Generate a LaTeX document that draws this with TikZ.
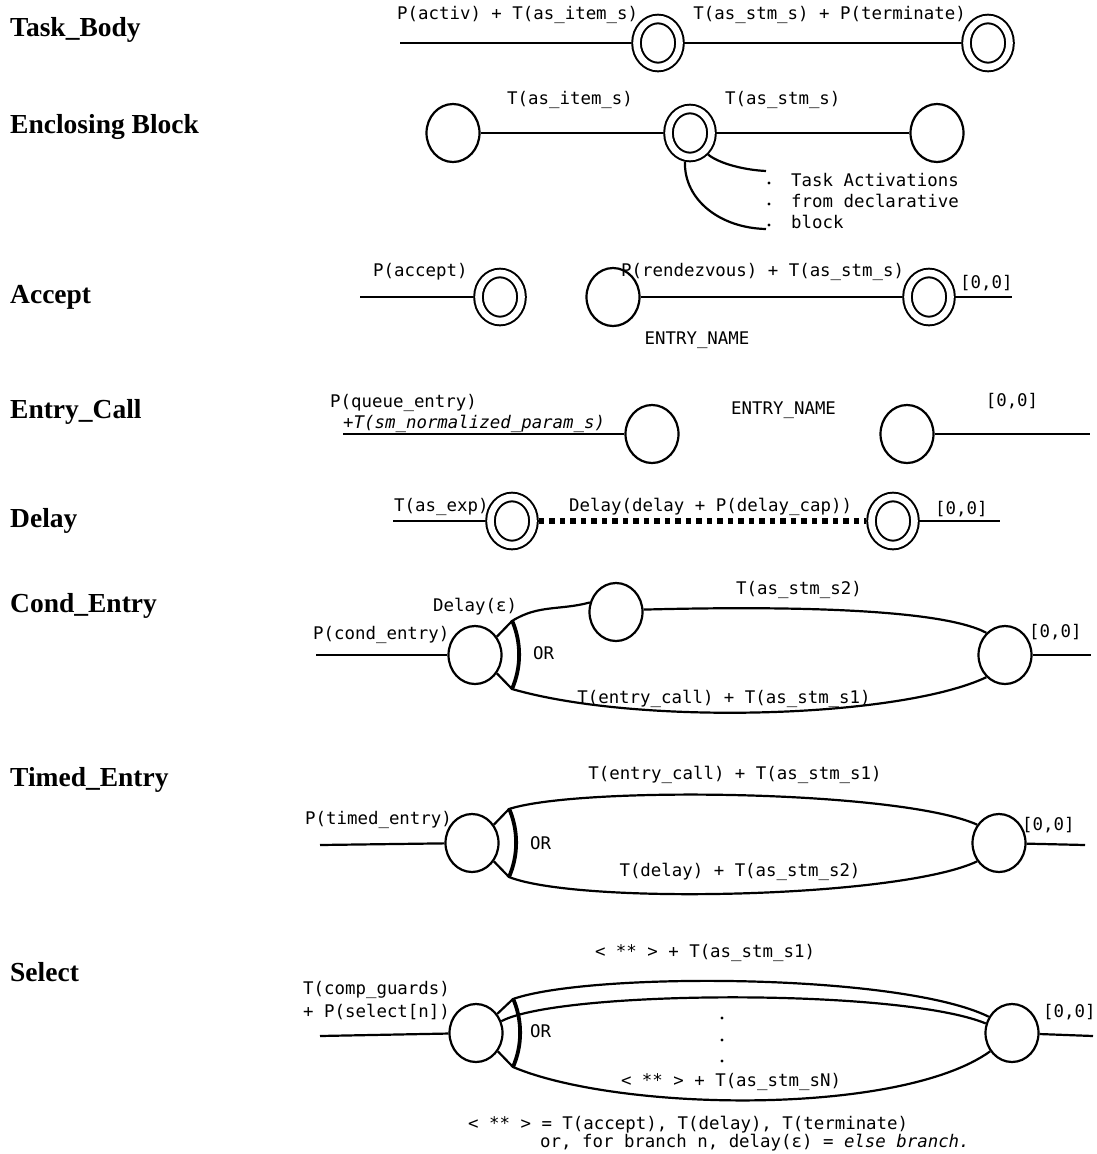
\documentclass[tikz,border=0pt]{standalone}
\usepackage{fontspec}
\newfontfamily\monof{DejaVu Sans Mono}
\newfontfamily\serf{Liberation Serif}
\usetikzlibrary{shapes.geometric,calc}
\tikzset{
 lbl/.style={font=\monof\fontsize{17.4}{20}\selectfont, inner sep=0pt},
 rowlbl/.style={font=\serf\bfseries\fontsize{27.5}{32}\selectfont, inner sep=0pt, anchor=west},
 ln/.style={line width=2.2pt},
 sgl/.style={ellipse, draw, line width=2.2pt, minimum width=53pt, minimum height=58pt, inner sep=0pt},
 dbl/.style={ellipse, draw, line width=2pt, double=white, double distance=6.6pt, minimum width=43pt, minimum height=48pt, inner sep=0pt, outer sep=5.3pt},
 orarc/.style={line width=3.8pt},
 sqdots/.style={line width=5.5pt, dash pattern=on 5.5pt off 5pt},
 smalldot/.style={circle, fill, inner sep=0pt, minimum size=3.2pt},
}
\begin{document}
\begin{tikzpicture}[x=1pt,y=1pt]
\fill[white] (0,0) rectangle (1097,-1154);
\useasboundingbox (0,0) rectangle (1097,-1154);

% row labels
\node[rowlbl] (lTB) at (10,-30) {Task\_Body};
\node[rowlbl] (lEB) at (10,-127) {Enclosing Block};
\node[rowlbl] (lAC) at (10,-297) {Accept};
\node[rowlbl] (lEC) at (10,-412) {Entry\_Call};
\node[rowlbl] (lDL) at (10,-521) {Delay};
\node[rowlbl] (lCE) at (10,-606) {Cond\_Entry};
\node[rowlbl] (lTE) at (10,-780) {Timed\_Entry};
\node[rowlbl] (lSE) at (10,-972) {Select};

% Row 1: Task_Body
\coordinate (r1s) at (400,-43);
\node[dbl] (P1) at (658,-43) {};
\node[dbl] (P2) at (988,-43) {};
\draw[ln] (r1s) -- (P1);
\draw[ln] (P1) -- (P2);
\node[lbl,anchor=west] (t1a) at (397,-15) {P(activ) + T(as\_item\_s)};
\node[lbl,anchor=east] (t1b) at (966,-15) {T(as\_stm\_s) + P(terminate)};

% Row 2: Enclosing Block
\node[sgl] (E1) at (453,-133) {};
\node[dbl] (E2) at (690,-133) {};
\node[sgl] (E3) at (937,-133) {};
\draw[ln] (E1) -- (E2);
\draw[ln] (E2) -- (E3);
\node[lbl,anchor=west] (t2a) at (507,-100) {T(as\_item\_s)};
\node[lbl,anchor=west] (t2b) at (725,-100) {T(as\_stm\_s)};
\coordinate (ea1) at (766,-171);
\coordinate (ea2) at (766,-229);
\draw[ln] (E2.-50) .. controls (720,-164) and (745,-170) .. (ea1);
\draw[ln] (E2.-100) .. controls (684,-200) and (720,-228) .. (ea2);
\node[lbl,anchor=west] (t2c) at (791,-180) {Task Activations};
\node[lbl,anchor=west] (t2d) at (791,-201) {from declarative};
\node[lbl,anchor=west] (t2e) at (791,-222) {block};
\node[smalldot] (d2a) at (769,-183) {};
\node[smalldot] (d2b) at (769,-204) {};
\node[smalldot] (d2c) at (769,-225) {};

% Row 3: Accept
\coordinate (r3s) at (360,-297);
\node[dbl] (A1) at (500,-297) {};
\node[sgl] (A2) at (613,-297) {};
\node[dbl] (A3) at (929,-297) {};
\coordinate (r3e) at (1012,-297);
\draw[ln] (r3s) -- (A1);
\draw[ln] (A2) -- (A3);
\draw[ln] (A3) -- (r3e);
\node[lbl,anchor=west] (t3a) at (373,-272) {P(accept)};
\node[lbl,anchor=west] (t3b) at (621,-272) {P(rendezvous) + T(as\_stm\_s)};
\node[lbl,anchor=west] (t3c) at (960,-283) {[0,0]};
\node[lbl] (t3d) at (697,-340) {ENTRY\_NAME};

% Row 4: Entry_Call
\coordinate (r4s) at (343,-434);
\node[sgl] (B1) at (652,-434) {};
\node[sgl] (B2) at (907,-434) {};
\coordinate (r4e) at (1090,-434);
\draw[ln] (r4s) -- (B1);
\draw[ln] (B2) -- (r4e);
\node[lbl,anchor=west] (t4a) at (330,-403) {P(queue\_entry)};
\node[lbl,anchor=west] (t4b) at (343,-424) {\itshape +T(sm\_normalized\_param\_s)};
\node[lbl,anchor=west] (t4c) at (731,-410) {ENTRY\_NAME};
\node[lbl] (t4d) at (1012,-401) {[0,0]};

% Row 5: Delay
\coordinate (r5s) at (393,-521);
\node[dbl] (D1) at (512,-521) {};
\node[dbl] (D2) at (893,-521) {};
\coordinate (r5e) at (1000,-521);
\draw[ln] (r5s) -- (D1);
\draw[sqdots] (D1) -- (D2);
\draw[ln] (D2) -- (r5e);
\node[lbl,anchor=west] (t5a) at (394,-507) {T(as\_exp)};
\node[lbl,anchor=west] (t5b) at (569,-507) {Delay(delay + P(delay\_cap))};
\node[lbl,anchor=west] (t5c) at (935,-509) {[0,0]};

% Row 6: Cond_Entry
\coordinate (r6s) at (316,-655);
\node[sgl] (C1) at (475,-655) {};
\node[sgl] (C2) at (616,-612) {};
\node[sgl] (C3) at (1005,-655) {};
\coordinate (r6e) at (1091,-655);
\draw[ln] (r6s) -- (C1);
\draw[ln] (C3) -- (r6e);
\coordinate (Ct) at ($(C1.center)+(37,34)$);
\coordinate (Cb) at ($(C1.center)+(37,-34)$);
\draw[orarc] (Cb) arc[start angle=-23.5,end angle=23.5,radius=86];
\draw[ln] (C1.40) -- (Ct) to[out=32,in=195] (C2.160);
\draw[ln] (C2.5) .. controls (780,-606) and (940,-608) .. (C3.130);
\draw[ln] (C1.-40) -- (Cb) .. controls (640,-726) and (900,-718) .. (C3.-130);
\node[lbl,anchor=west] (t6a) at (313,-635) {P(cond\_entry)};
\node[lbl,anchor=west] (t6b) at (433,-607) {Delay(ε)};
\node[lbl,anchor=west] (t6c) at (533,-653) {OR};
\node[lbl] (t6d) at (799,-590) {T(as\_stm\_s2)};
\node[lbl] (t6e) at (724,-699) {T(entry\_call) + T(as\_stm\_s1)};
\node[lbl,anchor=west] (t6f) at (1029,-632) {[0,0]};

% Row 7: Timed_Entry
\coordinate (r7s) at (320,-845);
\node[sgl] (T1) at (472,-843) {};
\node[sgl] (T2) at (999,-843) {};
\coordinate (r7e) at (1085,-845);
\draw[ln] (r7s) -- (T1);
\draw[ln] (T2) -- (r7e);
\coordinate (Tt) at ($(T1.center)+(37,34)$);
\coordinate (Tb) at ($(T1.center)+(37,-34)$);
\draw[orarc] (Tb) arc[start angle=-23.5,end angle=23.5,radius=86];
\draw[ln] (T1.40) -- (Tt) .. controls (580,-786) and (900,-790) .. (T2.140);
\draw[ln] (T1.-40) -- (Tb) .. controls (580,-905) and (900,-898) .. (T2.-140);
\node[lbl,anchor=west] (t7a) at (305,-820) {P(timed\_entry)};
\node[lbl,anchor=west] (t7b) at (530,-843) {OR};
\node[lbl] (t7c) at (735,-775) {T(entry\_call) + T(as\_stm\_s1)};
\node[lbl] (t7d) at (740,-872) {T(delay) + T(as\_stm\_s2)};
\node[lbl,anchor=west] (t7e) at (1022,-825) {[0,0]};

% Row 8: Select
\coordinate (r8s) at (320,-1036);
\node[sgl] (S1) at (476,-1033) {};
\node[sgl] (S2) at (1012,-1033) {};
\coordinate (r8e) at (1093,-1036);
\draw[ln] (r8s) -- (S1);
\draw[ln] (S2) -- (r8e);
\coordinate (St) at ($(S1.center)+(37,34)$);
\coordinate (Sb) at ($(S1.center)+(37,-34)$);
\draw[orarc] (Sb) arc[start angle=-23.5,end angle=23.5,radius=86];
\draw[ln] (S1.42) -- (St) .. controls (590,-972) and (900,-973) .. (S2.145);
\draw[ln] (S1.25) .. controls (560,-990) and (900,-988) .. (S2.160);
\draw[ln] (S1.-40) -- (Sb) .. controls (620,-1112) and (900,-1116) .. (S2.-140);
\node[lbl,anchor=west] (t8a) at (303,-990) {T(comp\_guards)};
\node[lbl,anchor=west] (t8b) at (303,-1012) {+ P(select[n])};
\node[lbl,anchor=west] (t8c) at (530,-1031) {OR};
\node[lbl] (t8d) at (705,-953) {< ** > + T(as\_stm\_s1)};
\node[smalldot] (d8a) at (722,-1018) {};
\node[smalldot] (d8b) at (722,-1040) {};
\node[smalldot] (d8c) at (722,-1061) {};
\node[lbl] (t8e) at (731,-1082) {< ** > + T(as\_stm\_sN)};
\node[lbl,anchor=west] (t8f) at (1043,-1012) {[0,0]};
\node[lbl,anchor=west] (t8g) at (468,-1125) {< ** > = T(accept), T(delay), T(terminate)};
\node[lbl,anchor=west] (t8h) at (540,-1143) {or, for branch n, delay(ε) = {\itshape else branch.}};
\end{tikzpicture}
\end{document}
